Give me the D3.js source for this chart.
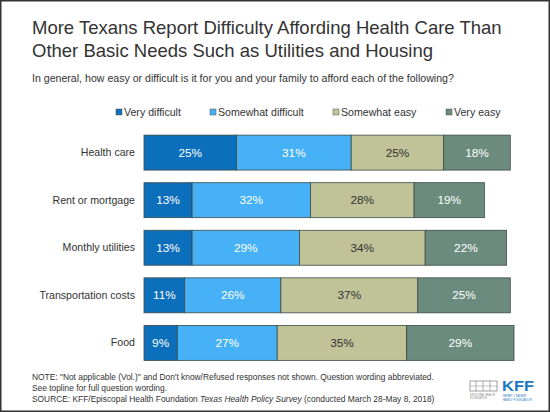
<!DOCTYPE html>
<html>
<head>
<meta charset="utf-8">
<script src="https://cdn.jsdelivr.net/npm/d3@7"></script>
<style>
  html, body { margin: 0; padding: 0; background: #fff; }
  svg text { font-family: "Liberation Sans", Arial, sans-serif; }
</style>
</head>
<body>
<div id="chart"></div>
<script>
const categories = ["Health care", "Rent or mortgage", "Monthly utilities", "Transportation costs", "Food"];
const seriesNames = ["Very difficult", "Somewhat difficult", "Somewhat easy", "Very easy"];
const veryDifficult = [25, 13, 13, 11, 9];
const somewhatDifficult = [31, 32, 29, 26, 27];
const somewhatEasy = [25, 28, 34, 37, 35];
const veryEasy = [18, 19, 22, 25, 29];
const colors = ["#0b6fbb", "#46b1f6", "#c0c398", "#6a8b7d"];
const labelColors = ["#fff", "#fff", "#333", "#fff"];

const W = 550, H = 412;
const svg = d3.select("#chart").append("svg")
    .attr("width", W).attr("height", H);

svg.append("rect")
    .attr("x", 0.75).attr("y", 0.75)
    .attr("width", W - 1.5).attr("height", H - 1.5)
    .attr("fill", "#fff").attr("stroke", "#333").attr("stroke-width", 1.5);

// title
const title = svg.append("text").attr("x", 32).attr("y", 34)
    .attr("font-size", 18.5).attr("fill", "#333");
title.append("tspan").attr("x", 32).text("More Texans Report Difficulty Affording Health Care Than");
title.append("tspan").attr("x", 32).attr("dy", 23).text("Other Basic Needs Such as Utilities and Housing");

svg.append("text").attr("x", 32).attr("y", 82)
    .attr("font-size", 10.6).attr("fill", "#333")
    .text("In general, how easy or difficult is it for you and your family to afford each of the following?");

// legend
const legendX = [116, 210, 333, 446];
const legend = svg.append("g").selectAll("g")
    .data(seriesNames).join("g")
    .attr("transform", (d, i) => `translate(${legendX[i]},112)`);
legend.append("rect")
    .attr("x", 0).attr("y", -3).attr("width", 6).attr("height", 6)
    .attr("fill", (d, i) => colors[i]).attr("stroke", "#555").attr("stroke-width", 0.5);
legend.append("text")
    .attr("x", 8).attr("y", 4)
    .attr("font-size", 10.6).attr("fill", "#333")
    .text(d => d);

// stacked bars
const rows = categories.map((c, i) => ({
    cat: c,
    "Very difficult": veryDifficult[i],
    "Somewhat difficult": somewhatDifficult[i],
    "Somewhat easy": somewhatEasy[i],
    "Very easy": veryEasy[i]
}));
const stacked = d3.stack().keys(seriesNames)(rows);

const x = d3.scaleLinear().domain([0, 100]).range([144, 514]);
const y = d3.scaleBand().domain(categories).range([122.5, 373]).padding(0.265);

const layers = svg.append("g").selectAll("g")
    .data(stacked).join("g")
    .attr("fill", (d, i) => colors[i]);

layers.selectAll("rect")
    .data(d => d).join("rect")
    .attr("x", d => x(d[0]))
    .attr("y", d => y(d.data.cat))
    .attr("width", d => x(d[1]) - x(d[0]))
    .attr("height", y.bandwidth())
    .attr("stroke", "#3d4a45")
    .attr("stroke-width", 0.8);

layers.selectAll("text")
    .data((d, i) => d.map(v => ({v, i})))
    .join("text")
    .attr("x", d => (x(d.v[0]) + x(d.v[1])) / 2)
    .attr("y", d => y(d.v.data.cat) + y.bandwidth() / 2 + 4)
    .attr("text-anchor", "middle")
    .attr("font-size", 11.8)
    .attr("fill", d => labelColors[d.i])
    .text(d => (d.v[1] - d.v[0]) + "%");

// category axis
svg.append("g")
    .attr("transform", "translate(144,0)")
    .call(d3.axisLeft(y).tickSize(0).tickPadding(9))
    .call(g => g.select(".domain").remove())
    .call(g => g.selectAll("text")
        .attr("font-size", 10.6).attr("fill", "#333")
        .attr("font-family", "Liberation Sans, Arial, sans-serif"));

// notes
const note = svg.append("text").attr("x", 32).attr("y", 380)
    .attr("font-size", 8.4).attr("fill", "#333");
note.append("tspan").attr("x", 32)
    .text("NOTE: \"Not applicable (Vol.)\" and Don't know/Refused responses not shown. Question wording abbreviated.");
note.append("tspan").attr("x", 32).attr("dy", 11)
    .text("See topline for full question wording.");
const src = note.append("tspan").attr("x", 32).attr("dy", 11);
src.text("SOURCE: KFF/Episcopal Health Foundation ");
note.append("tspan").attr("font-style", "italic").text("Texas Health Policy Survey");
note.append("tspan").text(" (conducted March 28-May 8, 2018)");

// logos
const logo = svg.append("g");
logo.append("rect").attr("x", 470).attr("y", 381).attr("width", 27).attr("height", 10)
    .attr("fill", "#fff").attr("stroke", "#8a8a8a").attr("stroke-width", 0.8);
[476, 483, 490].forEach(lx => logo.append("line")
    .attr("x1", lx).attr("x2", lx).attr("y1", 381).attr("y2", 391)
    .attr("stroke", "#8a8a8a").attr("stroke-width", 0.7));
logo.append("line").attr("x1", 470).attr("x2", 497).attr("y1", 386).attr("y2", 386)
    .attr("stroke", "#8a8a8a").attr("stroke-width", 0.5);
logo.append("text").attr("x", 470).attr("y", 396).attr("font-size", 2.6).attr("fill", "#888")
    .text("EPISCOPAL HEALTH");
logo.append("text").attr("x", 470).attr("y", 399).attr("font-size", 2.6).attr("fill", "#888")
    .text("FOUNDATION");
logo.append("text").attr("x", 502).attr("y", 391).attr("font-size", 15).attr("font-weight", "bold")
    .attr("fill", "#1d78c1").attr("textLength", 32).attr("lengthAdjust", "spacingAndGlyphs")
    .text("KFF");
logo.append("text").attr("x", 503).attr("y", 397).attr("font-size", 2.8).attr("fill", "#1d78c1")
    .text("HENRY J KAISER");
logo.append("text").attr("x", 503).attr("y", 400.5).attr("font-size", 2.8).attr("fill", "#1d78c1")
    .text("FAMILY FOUNDATION");
</script>
</body>
</html>
